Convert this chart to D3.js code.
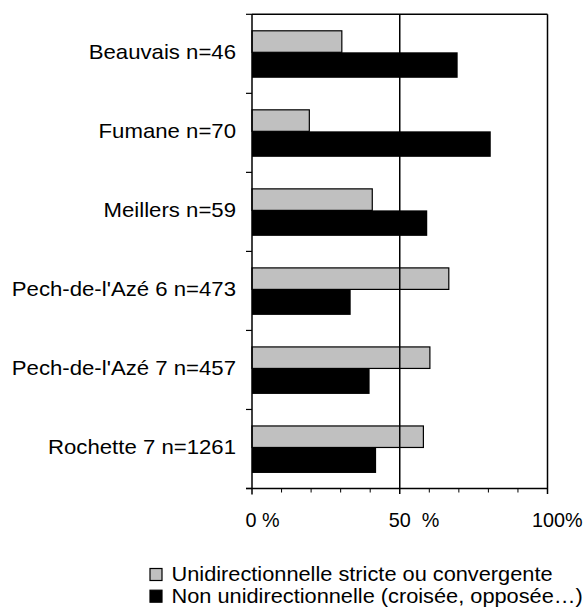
<!DOCTYPE html>
<html>
<head>
<meta charset="utf-8">
<script src="https://cdn.jsdelivr.net/npm/d3@7"></script>
<style>
  html, body { margin: 0; padding: 0; background: #fff; }
  text { font-family: "Liberation Sans", Arial, sans-serif; fill: #000; white-space: pre; }
</style>
</head>
<body>
<svg id="chart" width="587" height="608"></svg>
<script>
// Sites and sample sizes
const categories = [
  "Beauvais n=46",
  "Fumane n=70",
  "Meillers n=59",
  "Pech-de-l'Azé 6 n=473",
  "Pech-de-l'Azé 7 n=457",
  "Rochette 7 n=1261"
];
// Percentage of strictly unidirectional or convergent removals
const uniValues = [30.4, 19.4, 40.7, 66.6, 60.2, 58.0];
// Percentage of non-unidirectional removals (crossed, opposed...)
const nonUniValues = [69.6, 80.8, 59.3, 33.4, 39.8, 42.0];
const seriesNames = [
  "Unidirectionnelle stricte ou convergente",
  "Non unidirectionnelle (croisée, opposée…)"
];
const seriesColors = ["#c0c0c0", "#000000"];
const tickValues = [0, 50, 100];
const tickLabels = ["0 %", "50  %", "100%"];
const minorTicks = [10, 20, 30, 40, 60, 70, 80, 90];

const svg = d3.select("#chart");
const FONT = 19.8;
const STRETCH = 1.12;        // category lettering is set slightly wide
const LEGEND_STRETCH = 1.1;

const x = d3.scaleLinear().domain([0, 100]).range([252, 547.5]);
const y = d3.scaleBand().domain(categories).range([14.3, 488.5]).padding(0);
const step = y.step();

const g = svg.append("g");
const place = (tx, ty, s = STRETCH) => `translate(${tx},${ty}) scale(${s},1)`;

// bars: grey on top, black beneath
const rows = categories.map((c, i) => ({ c, u: uniValues[i], n: nonUniValues[i] }));
g.selectAll("rect.uni").data(rows).join("rect")
  .attr("class", "uni")
  .attr("x", x(0))
  .attr("y", d => y(d.c) + 16.5)
  .attr("width", d => x(d.u) - x(0))
  .attr("height", 21.5)
  .attr("fill", seriesColors[0])
  .attr("stroke", "#000")
  .attr("stroke-width", 1.2);

g.selectAll("rect.non").data(rows).join("rect")
  .attr("class", "non")
  .attr("x", x(0))
  .attr("y", d => y(d.c) + 38)
  .attr("width", d => x(d.n) - x(0))
  .attr("height", 25.5)
  .attr("fill", seriesColors[1]);

// frame and 50 % line
const line = (x1, y1, x2, y2, w = 1.5) => g.append("line")
  .attr("x1", x1).attr("y1", y1).attr("x2", x2).attr("y2", y2)
  .attr("stroke", "#000").attr("stroke-width", w);

const yTop = y.range()[0], yBottom = y.range()[1];
line(x(0), yTop, x(100), yTop);
line(x(100), yTop, x(100), yBottom + 5.5);
line(x(50), yTop, x(50), yBottom + 5.5);
line(x(0), yTop, x(0), yBottom + 6);
line(x(0) - 6, yBottom, x(100), yBottom);

// category ticks on the left axis
const catTicks = d3.range(categories.length + 1).map(i => yTop + i * step);
catTicks.forEach(t => line(x(0) - 6, t, x(0), t, 1.2));

// minor ticks along the bottom
minorTicks.forEach(v => line(x(v), yBottom, x(v), yBottom + 4, 1));

// category labels
g.selectAll("text.cat").data(categories).join("text")
  .attr("class", "cat")
  .attr("transform", d => place(236, y(d) + step / 2 + 4.8))
  .attr("text-anchor", "end")
  .attr("font-size", FONT)
  .text(d => d);

// percentage labels
const labelOffsets = [-6.5, -11, -15.5];
g.selectAll("text.tick").data(tickValues).join("text")
  .attr("class", "tick")
  .attr("transform", (d, i) => place(x(d) + labelOffsets[i], 527, 1))
  .attr("font-size", FONT)
  .text((d, i) => tickLabels[i]);

// legend
const legend = g.selectAll("g.leg").data(seriesNames).join("g")
  .attr("class", "leg")
  .attr("transform", (d, i) => `translate(150, ${581 + i * 21.7})`);
legend.append("rect")
  .attr("x", 0).attr("y", -12.5)
  .attr("width", 12).attr("height", 12)
  .attr("fill", (d, i) => seriesColors[i])
  .attr("stroke", "#000").attr("stroke-width", 1.2);
legend.append("text")
  .attr("transform", place(21.5, 0, LEGEND_STRETCH))
  .attr("font-size", FONT)
  .text(d => d);
</script>
</body>
</html>
